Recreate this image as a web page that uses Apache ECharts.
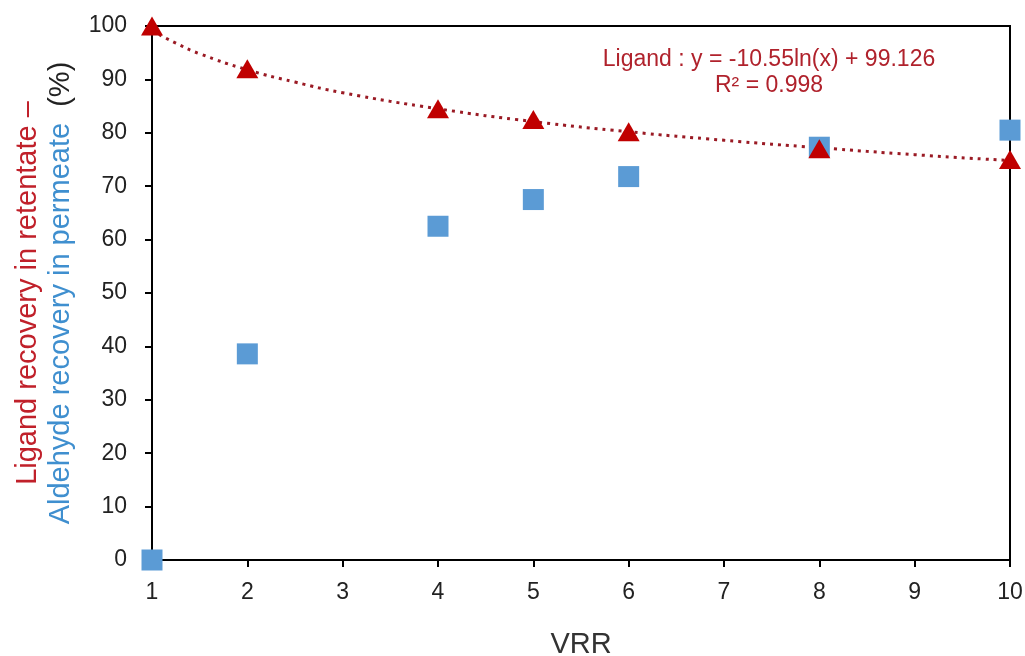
<!DOCTYPE html>
<html>
<head>
<meta charset="utf-8">
<script src="https://cdn.jsdelivr.net/npm/echarts@6/dist/echarts.min.js"></script>
<style>html,body{margin:0;padding:0;background:#fff}#c{width:1025px;height:656px}</style>
</head>
<body>
<div id="c"></div>
<script>
// Data
var vrr = [1, 2, 4, 5, 6, 8, 10];
var ligand = [100, 92, 84.5, 82.5, 80.2, 77, 75];
var aldehyde = [0, 38.6, 62.5, 67.5, 71.8, 77.3, 80.5];
// Dotted trendline
var trendX = [1, 1.25, 1.5, 2, 2.5, 3, 4, 5, 6, 7, 8, 9, 10];
var trendY = [99.1, 96.8, 94.8, 91.8, 89.5, 87.5, 84.5, 82.1, 80.2, 78.6, 77.2, 75.9, 74.8];
var xTicks = [1, 2, 3, 4, 5, 6, 7, 8, 9, 10];
var yTicks = [0, 10, 20, 30, 40, 50, 60, 70, 80, 90, 100];
var eqLine1 = 'Ligand : y = -10.55ln(x) + 99.126';
var eqLine2 = 'R² = 0.998';

var font = '"Liberation Sans", Arial, sans-serif';
var chart = echarts.init(document.getElementById('c'));
chart.setOption({
  animation: false,
  backgroundColor: '#fff',
  grid: { left: 152, right: 15, top: 26, bottom: 96, outerBoundsMode: 'none', containLabel: false, show: true, borderColor: '#000', borderWidth: 2, backgroundColor: 'transparent' },
  xAxis: {
    type: 'value', min: xTicks[0], max: xTicks[xTicks.length - 1], interval: 1,
    name: 'VRR', nameLocation: 'middle', nameGap: 70,
    nameTextStyle: { fontFamily: font, fontSize: 29, color: '#333' },
    axisLine: { lineStyle: { color: '#000', width: 2 } },
    axisTick: { show: true, length: 7, lineStyle: { color: '#000', width: 2 } },
    axisLabel: { fontFamily: font, fontSize: 23, color: '#222', margin: 21 },
    splitLine: { show: false }
  },
  yAxis: {
    type: 'value', min: yTicks[0], max: yTicks[yTicks.length - 1], interval: 10,
    name: '{r|Ligand recovery in retentate –}\n{b|Aldehyde recovery in permeate}{k|  (%)}',
    nameLocation: 'middle', nameGap: 74, nameRotate: 90,
    nameTextStyle: {
      fontFamily: font, fontSize: 29, lineHeight: 33,
      rich: {
        r: { fontFamily: font, fontSize: 29, color: '#C0202A', lineHeight: 33 },
        b: { fontFamily: font, fontSize: 29, color: '#3F8FCF', lineHeight: 33 },
        k: { fontFamily: font, fontSize: 29, color: '#222', lineHeight: 33 }
      }
    },
    axisLine: { lineStyle: { color: '#000', width: 2 } },
    axisTick: { show: true, length: 7, lineStyle: { color: '#000', width: 2 } },
    axisLabel: { fontFamily: font, fontSize: 23, color: '#222', margin: 25, padding: [4, 0, 0, 0] },
    splitLine: { show: false }
  },
  graphic: [
    { type: 'text', x: 769, y: 60, style: { text: eqLine1, fontFamily: font, fontSize: 23, fill: '#B0222C', textAlign: 'center', textVerticalAlign: 'middle' } },
    { type: 'text', x: 769, y: 86, style: { text: eqLine2, fontFamily: font, fontSize: 23, fill: '#B0222C', textAlign: 'center', textVerticalAlign: 'middle' } }
  ],
  series: [
    {
      type: 'line', data: trendX.map(function (x, i) { return [x, trendY[i]]; }),
      smooth: true, showSymbol: false, symbol: 'none', silent: true,
      lineStyle: { color: '#9A1A24', width: 3, type: [3, 5] }, z: 2
    },
    {
      type: 'scatter', data: vrr.map(function (x, i) { return [x, aldehyde[i]]; }),
      symbol: 'rect', symbolSize: 21, clip: false,
      itemStyle: { color: '#5B9BD5', opacity: 1 }, z: 3
    },
    {
      type: 'scatter', data: vrr.map(function (x, i) { return [x, ligand[i]]; }),
      symbol: 'triangle', symbolSize: [22, 19], clip: false,
      itemStyle: { color: '#C00000', opacity: 1 }, z: 4
    }
  ]
});
</script>
</body>
</html>
